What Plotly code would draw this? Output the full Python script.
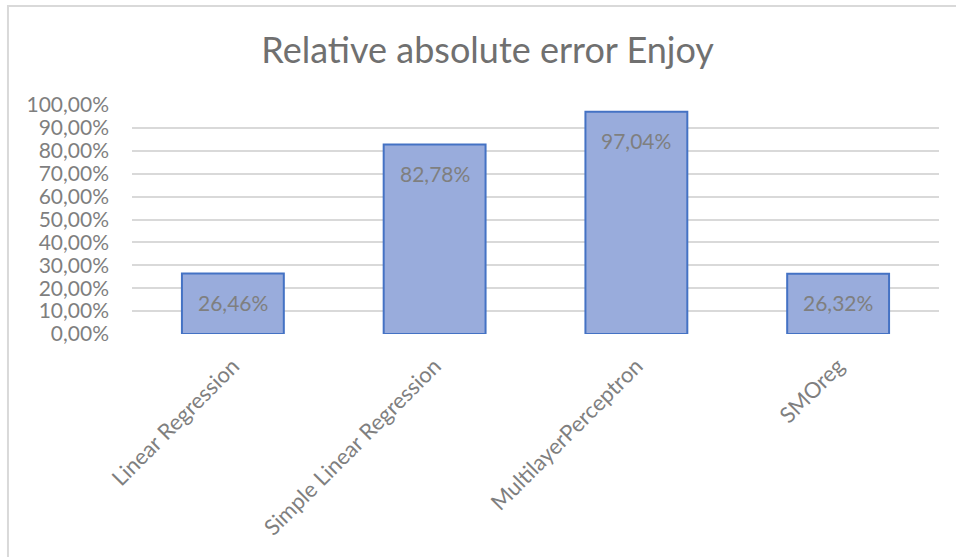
import plotly.graph_objects as go

# Relative absolute error per model (percent)
models = ["Linear Regression", "Simple Linear Regression", "MultilayerPerceptron", "SMOreg"]
rae_pct = [26.46, 82.78, 97.04, 26.32]
y_ticks = [0, 10, 20, 30, 40, 50, 60, 70, 80, 90, 100]

FONT = "Lato"
GREY = "#7f7f7f"


def pct_label(v):
    return f"{v:.2f}".replace(".", ",") + "%"


fig = go.Figure()
fig.add_trace(go.Bar(
    x=models,
    y=rae_pct,
    width=0.505,
    marker=dict(color="#99acdc", line=dict(color="#4472c4", width=2)),
    hoverinfo="skip",
))

# value labels just inside the top of each bar
for m, v in zip(models, rae_pct):
    fig.add_annotation(x=m, y=v, text=pct_label(v), showarrow=False,
                       yshift=-29, font=dict(family=FONT, size=21, color=GREY))

# light chart-area frame
fig.add_shape(type="rect", xref="paper", yref="paper",
              x0=-0.1537, x1=1.2, y0=-1.2, y1=1.4323,
              line=dict(color="#d9d9d9", width=2), fillcolor="rgba(0,0,0,0)",
              layer="below")

fig.update_layout(
    width=956, height=557,
    margin=dict(l=132, r=17, t=105, b=223),
    paper_bgcolor="white", plot_bgcolor="white",
    showlegend=False,
    title=dict(text="Relative absolute error Enjoy", x=0.51, xanchor="center",
               y=0.91, yanchor="middle",
               font=dict(family=FONT, size=36, color="#707070")),
    xaxis=dict(showgrid=False, showline=False, ticks="", tickangle=-45,
               tickfont=dict(family=FONT, size=22, color=GREY),
               ticklabelstandoff=14),
    yaxis=dict(range=[0, 100], tickvals=y_ticks,
               ticktext=[pct_label(t) for t in y_ticks],
               showgrid=True, gridcolor="#d9d9d9", gridwidth=1.5,
               zeroline=False, showline=False, ticks="",
               ticklabelstandoff=22,
               tickfont=dict(family=FONT, size=21, color=GREY)),
)

fig.write_html("out.html")
